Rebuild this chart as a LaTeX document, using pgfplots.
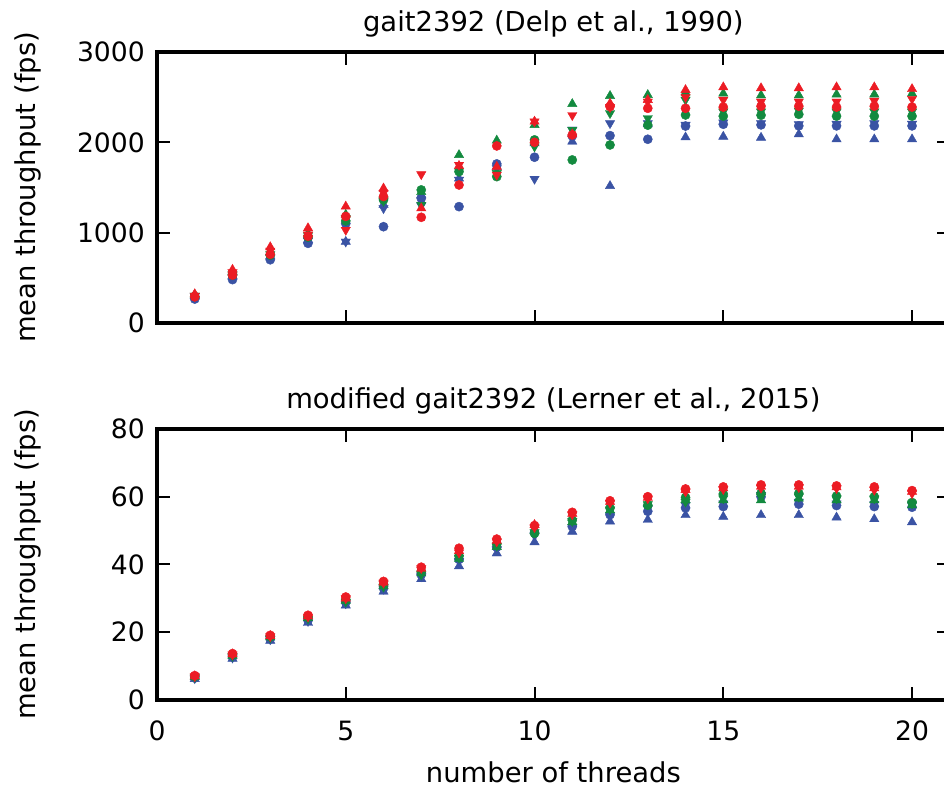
\documentclass[border=0pt]{standalone}
\usepackage{fontspec}
\setmainfont{DejaVu Sans}
\usepackage{pgfplots}
\pgfplotsset{compat=1.18}
\usepackage{pgfplotstable}
\definecolor{cr}{HTML}{EC1C24}
\definecolor{cg}{HTML}{138A3F}
\definecolor{cb}{HTML}{3A53A4}

\pgfplotstableread{
x Rup Rdn Ro Gup Gdn Go Bup Bdn Bo
1 320 300 290 310 300 295 300 295 265
2 590 560 530 570 540 530 520 510 480
3 840 800 760 780 760 750 740 730 700
4 1050 980 960 993 970 950 920 910 882
5 1290 1030 1180 1200 1160 1130 900 900 1100
6 1490 1440 1400 1420 1350 1362 1310 1270 1066
7 1270 1646 1170 1450 1307 1473 1417 1300 1380
8 1740 1750 1528 1860 1680 1676 1600 1584 1288
9 1730 1640 1960 2020 1660 1620 1730 1713 1761
10 2230 2230 2000 2193 1953 2027 1990 1595 1835
11 2090 2300 2082 2425 2137 1805 2008 2140 2070
12 2430 2390 2396 2514 2322 1971 1517 2211 2074
13 2470 2450 2377 2525 2267 2190 2200 2211 2034
14 2580 2500 2377 2551 2470 2303 2056 2193 2180
15 2610 2470 2390 2540 2340 2290 2063 2219 2200
16 2600 2450 2400 2520 2340 2300 2052 2211 2193
17 2600 2450 2400 2520 2350 2310 2089 2200 2182
18 2610 2450 2390 2530 2340 2290 2034 2204 2182
19 2610 2460 2400 2530 2340 2290 2034 2210 2182
20 2590 2480 2390 2540 2340 2290 2034 2204 2182
}\topdata

\pgfplotstableread{
x Ro Rup Rdn Go Gup Gdn Bo Bdn Bup
1 7.2 7.0 7.0 6.9 6.8 6.8 6.5 6.4 6.2
2 13.7 13.5 13.4 13.3 13.1 13.0 12.7 12.5 12.2
3 19.1 18.9 18.8 18.7 18.5 18.4 18.0 17.9 17.5
4 25.0 24.7 24.6 24.4 24.2 24.0 23.5 23.3 22.8
5 30.4 30.0 30.0 29.6 29.3 29.0 28.8 28.5 27.9
6 35.0 34.7 34.6 34.0 33.6 33.4 33.0 32.8 32.0
7 39.2 38.8 38.9 38.0 37.4 37.0 37.0 36.5 35.7
8 44.8 44.0 43.5 42.5 41.7 42.0 41.5 41.0 39.5
9 47.5 47.0 46.8 46.0 45.2 45.5 45.1 44.5 43.3
10 51.5 51.7 51.0 49.2 49.8 49.5 49.5 48.5 46.6
11 55.4 55.0 54.8 53.1 52.5 52.8 51.2 51.0 49.7
12 58.8 58.5 58.2 56.7 56.0 56.2 54.7 54.5 52.7
13 60.0 59.7 59.5 57.5 58.0 57.8 55.7 56.5 53.2
14 62.3 62.0 61.5 59.8 59.0 58.5 56.7 57.5 54.6
15 62.9 62.5 62.2 60.8 59.0 59.5 57.1 58.0 54.1
16 63.5 63.0 62.6 61.0 59.0 60.0 60.0 60.5 54.6
17 63.5 63.0 62.8 61.0 59.5 60.0 57.8 58.5 54.6
18 63.2 62.8 62.5 60.2 59.0 59.5 57.4 58.0 53.9
19 62.9 62.5 62.0 60.0 59.0 59.5 57.1 57.8 53.4
20 61.8 61.5 61.0 58.3 57.5 58.0 56.9 57.5 52.5
}\botdata

\pgfplotsset{
  myaxis/.style={
    scale only axis, width=396.4pt, height=135.5pt,
    xmin=0, xmax=21, xtick={0,5,10,15,20},
    axis line style={line width=1.8pt},
    tick style={line width=1pt, black},
    major tick length=6.5pt, tick align=inside,
    ticklabel style={font=\fontsize{13.3}{16}\selectfont},
    /pgf/number format/assume math mode=true,
    /pgf/number format/1000 sep={},
    scaled y ticks=false,
    x tick label style={yshift=-7pt},
    y tick label style={xshift=-2.6pt},
    title style={font=\fontsize{13.7}{16}\selectfont, yshift=-2pt},
    label style={font=\fontsize{13.7}{16}\selectfont},
    ylabel style={at={(axis description cs:-0.1633,0.5)}, anchor=center},
  },
  mc/.style={only marks, mark=*, mark size=2.3pt, color=#1, mark options={line width=0.2pt}},
  mu/.style={only marks, mark=triangle*, mark size=2.7pt, color=#1, mark options={line width=0.2pt}},
  md/.style={only marks, mark=triangle*, mark size=2.7pt, color=#1, mark options={rotate=180, line width=0.2pt}},
}

\begin{document}
\begin{tikzpicture}
\begin{axis}[myaxis, at={(0,188.5pt)}, anchor=south west,
  ymin=0, ymax=3000, ytick={0,1000,2000,3000}, xticklabels={},
  title={gait2392 (Delp et al., 1990)},
  ylabel={mean throughput (fps)}]
\addplot[mc=cb] table[x=x,y=Bo]{\topdata};
\addplot[mu=cb] table[x=x,y=Bup]{\topdata};
\addplot[md=cb] table[x=x,y=Bdn]{\topdata};
\addplot[mc=cg] table[x=x,y=Go]{\topdata};
\addplot[mu=cg] table[x=x,y=Gup]{\topdata};
\addplot[md=cg] table[x=x,y=Gdn]{\topdata};
\addplot[mc=cr] table[x=x,y=Ro]{\topdata};
\addplot[mu=cr] table[x=x,y=Rup]{\topdata};
\addplot[md=cr] table[x=x,y=Rdn]{\topdata};
\end{axis}
\begin{axis}[myaxis, at={(0,0)}, anchor=south west,
  ymin=0, ymax=80, ytick={0,20,40,60,80},
  title={modified gait2392 (Lerner et al., 2015)},
  ylabel={mean throughput (fps)},
  xlabel={number of threads},
  xlabel style={at={(axis description cs:0.5,0)}, anchor=base, yshift=-41.5pt}]
\addplot[mu=cb] table[x=x,y=Bup]{\botdata};
\addplot[md=cb] table[x=x,y=Bdn]{\botdata};
\addplot[mc=cb] table[x=x,y=Bo]{\botdata};
\addplot[mu=cg] table[x=x,y=Gup]{\botdata};
\addplot[md=cg] table[x=x,y=Gdn]{\botdata};
\addplot[mc=cg] table[x=x,y=Go]{\botdata};
\addplot[md=cr] table[x=x,y=Rdn]{\botdata};
\addplot[mu=cr] table[x=x,y=Rup]{\botdata};
\addplot[mc=cr] table[x=x,y=Ro]{\botdata};
\end{axis}
\pgfresetboundingbox
\path[use as bounding box] (-78.5pt,-45pt) rectangle (393.5pt,350pt);
\end{tikzpicture}
\end{document}
